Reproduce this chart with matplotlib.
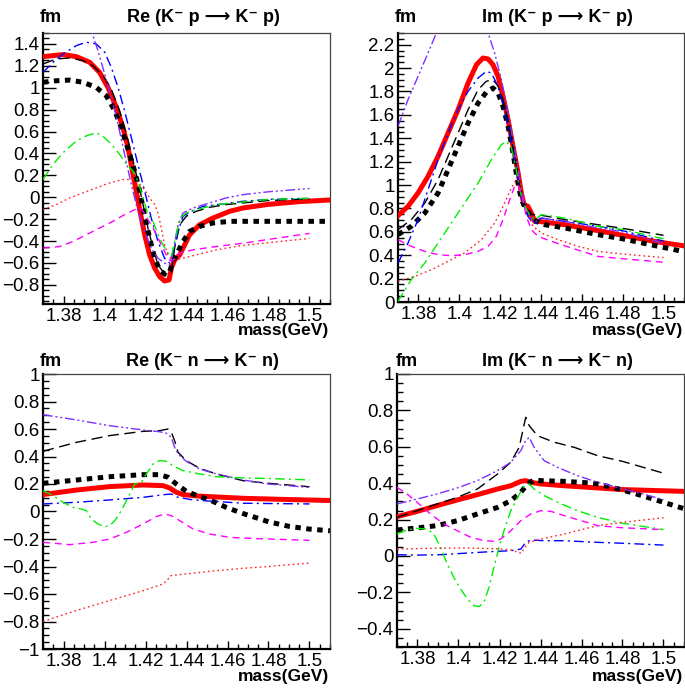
import matplotlib
matplotlib.use("Agg")
import matplotlib.pyplot as plt
from matplotlib.ticker import MultipleLocator, FuncFormatter

plt.rcParams['font.family'] = ['Liberation Sans', 'DejaVu Sans']

# ---------------- Re (K- p -> K- p) ----------------
rep_red_x = [1.37, 1.3798, 1.3863, 1.3928, 1.3976, 1.4017, 1.4058, 1.409, 1.4115, 1.4136, 1.4155, 1.4175,
             1.4196, 1.422, 1.4245, 1.4269, 1.4293, 1.4315, 1.4326, 1.4342, 1.4367, 1.4383, 1.4415, 1.4464,
             1.4529, 1.4611, 1.4676, 1.48, 1.495, 1.51]
rep_red_y = [1.284, 1.303, 1.284, 1.232, 1.14, 1.003, 0.82, 0.636, 0.453, 0.239, 0.055, -0.144,
             -0.343, -0.526, -0.648, -0.725, -0.765, -0.755, -0.648, -0.572, -0.526, -0.465, -0.343, -0.251,
             -0.19, -0.128, -0.098, -0.065, -0.04, -0.025]
rep_dot_x = [1.37, 1.3765, 1.383, 1.3895, 1.396, 1.4009, 1.405, 1.4082, 1.4115, 1.4147, 1.4172, 1.4196,
             1.422, 1.4245, 1.4269, 1.4293, 1.4315, 1.4334, 1.4359, 1.4383, 1.4415, 1.4464, 1.4529, 1.4611,
             1.48, 1.51]
rep_dot_y = [1.05, 1.064, 1.07, 1.05, 1.003, 0.927, 0.79, 0.636, 0.437, 0.239, 0.055, -0.174,
             -0.373, -0.557, -0.664, -0.703, -0.694, -0.587, -0.495, -0.404, -0.312, -0.266, -0.235, -0.22,
             -0.22, -0.22]
rep_dash_x = [1.37, 1.3765, 1.383, 1.3895, 1.3944, 1.3993, 1.4033, 1.4074, 1.4107, 1.4136, 1.4163, 1.4188,
              1.4212, 1.4237, 1.4261, 1.4285, 1.431, 1.4326, 1.4342, 1.4367, 1.4399, 1.4448, 1.4513, 1.4594,
              1.4676, 1.48, 1.50]
rep_dash_y = [1.217, 1.263, 1.272, 1.248, 1.2, 1.11, 0.988, 0.789, 0.575, 0.361, 0.147, -0.067,
              -0.281, -0.465, -0.618, -0.679, -0.709, -0.694, -0.465, -0.251, -0.174, -0.128, -0.092, -0.067,
              -0.052, -0.03, -0.015]
rep_blue_x = [1.37, 1.3749, 1.3798, 1.3863, 1.3911, 1.396, 1.4001, 1.4033, 1.4066, 1.4098, 1.4131, 1.4163,
              1.4196, 1.4228, 1.4261, 1.4293, 1.4318, 1.4337, 1.4359, 1.4383, 1.4424, 1.4481, 1.4578, 1.4676,
              1.48, 1.50]
rep_blue_y = [1.14, 1.232, 1.309, 1.385, 1.416, 1.40, 1.324, 1.187, 1.003, 0.789, 0.544, 0.3,
              0.055, -0.19, -0.404, -0.557, -0.602, -0.495, -0.312, -0.174, -0.128, -0.083, -0.061, -0.037,
              -0.02, -0.01]
rep_violet_x = [1.37, 1.385, 1.3936, 1.3968, 1.4001, 1.4033, 1.4066, 1.4098, 1.4131, 1.4163, 1.4196, 1.4228,
                1.4261, 1.4293, 1.4318, 1.4334, 1.4359, 1.4383, 1.4432, 1.4513, 1.4594, 1.4676, 1.48, 1.50]
rep_violet_y = [2.8, 2.0, 1.52, 1.34, 1.125, 0.911, 0.667, 0.391, 0.116, -0.128, -0.312, -0.465,
                -0.557, -0.602, -0.618, -0.495, -0.251, -0.144, -0.098, -0.052, -0.006, 0.024, 0.05, 0.08]
rep_green_x = [1.37, 1.3749, 1.3798, 1.3863, 1.3911, 1.396, 1.4001, 1.4041, 1.4074, 1.4107, 1.4139, 1.4163,
               1.4188, 1.4212, 1.4237, 1.4261, 1.4285, 1.431, 1.4326, 1.4339, 1.435, 1.4367, 1.4399, 1.4448,
               1.4546, 1.4676, 1.48, 1.50]
rep_green_y = [0.162, 0.3, 0.407, 0.514, 0.56, 0.59, 0.544, 0.468, 0.391, 0.3, 0.239, 0.147,
               -0.006, -0.159, -0.22, -0.343, -0.434, -0.511, -0.541, -0.434, -0.343, -0.19, -0.144, -0.113,
               -0.067, -0.043, -0.02, -0.01]
rep_rdot_x = [1.37, 1.3765, 1.383, 1.3895, 1.396, 1.4025, 1.409, 1.4139, 1.4172, 1.4196, 1.422, 1.4245,
              1.4261, 1.4277, 1.4293, 1.431, 1.4326, 1.435, 1.4383, 1.4448, 1.4546, 1.4676, 1.48, 1.50]
rep_rdot_y = [-0.113, -0.067, -0.006, 0.04, 0.086, 0.131, 0.162, 0.162, 0.116, 0.07, -0.006, -0.067,
              -0.144, -0.281, -0.434, -0.526, -0.557, -0.572, -0.557, -0.526, -0.48, -0.44, -0.415, -0.376]
rep_mag_x = [1.37, 1.3781, 1.3846, 1.3911, 1.3976, 1.4041, 1.4098, 1.4147, 1.4172, 1.4188, 1.4212, 1.4237,
             1.4261, 1.4285, 1.431, 1.4326, 1.4342, 1.4367, 1.4432, 1.4546, 1.4676, 1.48, 1.50]
rep_mag_y = [-0.465, -0.45, -0.404, -0.343, -0.281, -0.22, -0.159, -0.113, -0.098, -0.128, -0.205, -0.281,
             -0.373, -0.465, -0.557, -0.587, -0.557, -0.511, -0.48, -0.45, -0.42, -0.385, -0.33]

# ---------------- Im (K- p -> K- p) ----------------
imp_red_x = [1.37, 1.3749, 1.3798, 1.3847, 1.3896, 1.3945, 1.3994, 1.4043, 1.4084, 1.4116, 1.4141, 1.4165,
             1.419, 1.4214, 1.4239, 1.4263, 1.4288, 1.4304, 1.4317, 1.4336, 1.4353, 1.4369, 1.4385, 1.4516,
             1.4679, 1.48, 1.495, 1.51]
imp_red_y = [0.738, 0.818, 0.932, 1.074, 1.245, 1.445, 1.644, 1.872, 2.029, 2.086, 2.078, 2.029,
             1.929, 1.758, 1.559, 1.331, 1.103, 0.932, 0.832, 0.818, 0.761, 0.69, 0.69, 0.661,
             0.61, 0.57, 0.52, 0.48]
imp_dot_x = [1.37, 1.3765, 1.3831, 1.3896, 1.3945, 1.3994, 1.4043, 1.4092, 1.4132, 1.4165, 1.419, 1.4214,
             1.4239, 1.4263, 1.4284, 1.4304, 1.4328, 1.4353, 1.4377, 1.4418, 1.4516, 1.4679, 1.48, 1.51]
imp_dot_y = [0.576, 0.647, 0.761, 0.932, 1.131, 1.331, 1.53, 1.701, 1.793, 1.83, 1.787, 1.673,
             1.502, 1.274, 1.046, 0.875, 0.789, 0.732, 0.69, 0.661, 0.633, 0.576, 0.54, 0.43]
imp_dash_x = [1.37, 1.3765, 1.3831, 1.3896, 1.3945, 1.3994, 1.4043, 1.4092, 1.4132, 1.4165, 1.419, 1.4214,
              1.4239, 1.4263, 1.4288, 1.4307, 1.4328, 1.4353, 1.4385, 1.4516, 1.4679, 1.48, 1.50]
imp_dash_y = [0.618, 0.704, 0.846, 1.046, 1.245, 1.445, 1.644, 1.815, 1.887, 1.901, 1.844, 1.73,
              1.545, 1.317, 1.074, 0.889, 0.804, 0.747, 0.747, 0.704, 0.661, 0.63, 0.57]
imp_blue_x = [1.37, 1.3749, 1.3798, 1.3847, 1.3896, 1.3945, 1.3994, 1.4043, 1.4092, 1.4132, 1.4157, 1.419,
              1.4214, 1.4239, 1.4263, 1.4288, 1.4307, 1.4336, 1.4361, 1.4377, 1.4402, 1.4516, 1.4679, 1.48,
              1.50]
imp_blue_y = [0.333, 0.504, 0.704, 0.96, 1.217, 1.445, 1.644, 1.801, 1.915, 1.972, 1.958, 1.844,
              1.687, 1.502, 1.274, 1.046, 0.875, 0.732, 0.675, 0.675, 0.718, 0.69, 0.647, 0.61,
              0.52]
imp_violet_x = [1.37, 1.3749, 1.3798, 1.3847, 1.3888, 1.40, 1.4141, 1.4173, 1.4206, 1.4239, 1.4263, 1.4288,
                1.4307, 1.4328, 1.4353, 1.4369, 1.4394, 1.4516, 1.4679, 1.48, 1.50]
imp_violet_y = [1.502, 1.73, 1.929, 2.129, 2.3, 2.9, 2.3, 2.129, 1.901, 1.616, 1.388, 1.131,
                0.932, 0.789, 0.704, 0.675, 0.718, 0.69, 0.633, 0.6, 0.5]
imp_green_x = [1.37, 1.3765, 1.3831, 1.3896, 1.3961, 1.4026, 1.4092, 1.4157, 1.4206, 1.423, 1.4255, 1.4279,
               1.43, 1.432, 1.4345, 1.4369, 1.4402, 1.4516, 1.4679, 1.48, 1.50]
imp_green_y = [0.006, 0.191, 0.333, 0.504, 0.675, 0.846, 1.017, 1.217, 1.345, 1.374, 1.317, 1.131,
               0.932, 0.818, 0.747, 0.704, 0.747, 0.718, 0.647, 0.62, 0.54]
imp_rdot_x = [1.37, 1.3782, 1.3863, 1.3945, 1.4026, 1.4108, 1.4173, 1.4222, 1.4255, 1.4279, 1.4296, 1.4312,
              1.4336, 1.4361, 1.4402, 1.4483, 1.4581, 1.4679, 1.48, 1.50]
imp_rdot_y = [0.177, 0.219, 0.276, 0.348, 0.419, 0.533, 0.675, 0.846, 0.975, 1.046, 1.032, 0.932,
              0.761, 0.647, 0.59, 0.533, 0.476, 0.433, 0.41, 0.38]
imp_mag_x = [1.37, 1.3765, 1.3831, 1.3896, 1.3961, 1.4026, 1.4092, 1.4141, 1.4181, 1.4214, 1.4247, 1.4271,
             1.4288, 1.4307, 1.4328, 1.4353, 1.4385, 1.4451, 1.4549, 1.4679, 1.48, 1.50]
imp_mag_y = [0.533, 0.476, 0.433, 0.405, 0.396, 0.405, 0.433, 0.476, 0.561, 0.704, 0.875, 0.989,
             1.003, 0.903, 0.732, 0.618, 0.561, 0.519, 0.462, 0.39, 0.37, 0.34]

# ---------------- Re (K- n -> K- n) ----------------
ren_red_x = [1.37, 1.3863, 1.4025, 1.4188, 1.4285, 1.4318, 1.435, 1.4383, 1.4448, 1.4676, 1.49, 1.51]
ren_red_y = [0.123, 0.156, 0.181, 0.193, 0.188, 0.171, 0.14, 0.123, 0.113, 0.096, 0.087, 0.08]
ren_dot_x = [1.37, 1.3863, 1.4025, 1.4188, 1.4269, 1.431, 1.435, 1.4399, 1.4464, 1.4513, 1.4594, 1.4676,
             1.475, 1.48, 1.49, 1.50, 1.51]
ren_dot_y = [0.205, 0.229, 0.253, 0.268, 0.268, 0.249, 0.2, 0.147, 0.108, 0.084, 0.03, -0.015,
             -0.05, -0.075, -0.108, -0.128, -0.14]
ren_dash_x = [1.37, 1.3863, 1.4025, 1.4188, 1.4269, 1.431, 1.4326, 1.4342, 1.4359, 1.4399, 1.4464, 1.4546,
              1.4676, 1.48, 1.50]
ren_dash_y = [0.438, 0.503, 0.552, 0.583, 0.588, 0.6, 0.576, 0.515, 0.43, 0.37, 0.314, 0.273,
              0.224, 0.205, 0.18]
ren_violet_x = [1.37, 1.3863, 1.4025, 1.4188, 1.4269, 1.4302, 1.4326, 1.4342, 1.4359, 1.4399, 1.4464, 1.4546,
                1.4676, 1.48, 1.50]
ren_violet_y = [0.704, 0.666, 0.624, 0.593, 0.58, 0.569, 0.539, 0.467, 0.418, 0.365, 0.309, 0.273,
                0.229, 0.2, 0.175]
ren_green_x = [1.37, 1.3749, 1.3798, 1.3846, 1.3887, 1.3911, 1.3936, 1.3968, 1.4001, 1.4025, 1.405, 1.4082,
               1.4115, 1.4147, 1.418, 1.4204, 1.4237, 1.4269, 1.4302, 1.4334, 1.4383, 1.4464, 1.4546, 1.4676,
               1.48, 1.50]
ren_green_y = [0.152, 0.115, 0.067, 0.03, 0.018, 0.006, -0.054, -0.091, -0.11, -0.103, -0.067, 0.006,
               0.103, 0.2, 0.212, 0.273, 0.345, 0.37, 0.365, 0.333, 0.297, 0.273, 0.253, 0.244,
               0.24, 0.23]
ren_blue_x = [1.37, 1.3863, 1.4025, 1.4188, 1.4293, 1.4326, 1.4359, 1.4432, 1.4676, 1.50]
ren_blue_y = [0.055, 0.067, 0.084, 0.103, 0.123, 0.127, 0.103, 0.084, 0.06, 0.055]
ren_mag_x = [1.37, 1.383, 1.3944, 1.4025, 1.4107, 1.4188, 1.4253, 1.4293, 1.4326, 1.4367, 1.4432, 1.4513,
             1.4611, 1.4676, 1.48, 1.50]
ren_mag_y = [-0.224, -0.241, -0.224, -0.2, -0.151, -0.091, -0.037, -0.018, -0.03, -0.067, -0.127, -0.164,
             -0.188, -0.193, -0.2, -0.21]
ren_rdot_x = [1.37, 1.3863, 1.4025, 1.4188, 1.4285, 1.4305, 1.4321, 1.435, 1.4513, 1.4676, 1.48, 1.50]
ren_rdot_y = [-0.8, -0.72, -0.648, -0.576, -0.527, -0.503, -0.467, -0.462, -0.435, -0.413, -0.4, -0.375]

# ---------------- Im (K- n -> K- n) ----------------
imn_red_x = [1.37, 1.3798, 1.3896, 1.3994, 1.4092, 1.419, 1.4255, 1.4304, 1.4328, 1.4353, 1.4402, 1.4516,
             1.4679, 1.48, 1.51]
imn_red_y = [0.216, 0.245, 0.277, 0.308, 0.337, 0.368, 0.386, 0.41, 0.414, 0.405, 0.396, 0.386,
             0.374, 0.365, 0.355]
imn_dot_x = [1.37, 1.3798, 1.3896, 1.3994, 1.4092, 1.419, 1.4255, 1.4304, 1.4337, 1.4369, 1.4402, 1.4516,
             1.4647, 1.4679, 1.48, 1.49, 1.51]
imn_dot_y = [0.143, 0.154, 0.167, 0.194, 0.231, 0.267, 0.304, 0.35, 0.396, 0.418, 0.414, 0.41,
             0.401, 0.396, 0.363, 0.33, 0.26]
imn_dash_x = [1.37, 1.3798, 1.3896, 1.3994, 1.4092, 1.419, 1.4255, 1.4296, 1.4317, 1.4328, 1.4345, 1.4385,
              1.4467, 1.4565, 1.4679, 1.48, 1.50]
imn_dash_y = [0.212, 0.249, 0.286, 0.322, 0.368, 0.45, 0.515, 0.597, 0.707, 0.762, 0.716, 0.661,
              0.625, 0.597, 0.551, 0.52, 0.455]
imn_violet_x = [1.37, 1.3798, 1.3896, 1.3994, 1.4092, 1.419, 1.4255, 1.4304, 1.4328, 1.4345, 1.4369, 1.4418,
                1.4483, 1.4581, 1.4679, 1.48, 1.50]
imn_violet_y = [0.286, 0.313, 0.341, 0.374, 0.414, 0.469, 0.515, 0.579, 0.634, 0.652, 0.597, 0.524,
                0.487, 0.441, 0.405, 0.37, 0.31]
imn_green_x = [1.37, 1.3749, 1.3798, 1.3847, 1.388, 1.3912, 1.3945, 1.3977, 1.401, 1.4043, 1.4075, 1.41,
               1.4124, 1.4149, 1.4173, 1.4198, 1.4222, 1.4255, 1.4288, 1.432, 1.4345, 1.4369, 1.4418, 1.4483,
               1.4581, 1.4679, 1.48, 1.50]
imn_green_y = [0.121, 0.143, 0.152, 0.148, 0.121, 0.048, -0.044, -0.117, -0.181, -0.236, -0.273, -0.278,
               -0.255, -0.172, -0.062, 0.048, 0.139, 0.249, 0.322, 0.386, 0.396, 0.368, 0.332, 0.295,
               0.249, 0.212, 0.18, 0.145]
imn_blue_x = [1.37, 1.3798, 1.3912, 1.4026, 1.4157, 1.4255, 1.4304, 1.4328, 1.4353, 1.4418, 1.4516, 1.4679,
              1.48, 1.50]
imn_blue_y = [0.007, 0.005, 0.007, 0.015, 0.024, 0.029, 0.038, 0.075, 0.088, 0.084, 0.084, 0.075,
              0.07, 0.06]
imn_rdot_x = [1.37, 1.3863, 1.4026, 1.419, 1.4255, 1.4307, 1.4323, 1.4345, 1.4402, 1.4516, 1.4679, 1.48, 1.50]
imn_rdot_y = [0.038, 0.042, 0.044, 0.04, 0.033, 0.015, 0.048, 0.075, 0.093, 0.121, 0.167, 0.185, 0.21]
imn_mag_x = [1.37, 1.3749, 1.3798, 1.3863, 1.3928, 1.3994, 1.4059, 1.4124, 1.4173, 1.4206, 1.4255, 1.4304,
             1.4353, 1.4402, 1.4451, 1.4516, 1.4598, 1.4679, 1.48, 1.50]
imn_mag_y = [0.377, 0.341, 0.295, 0.231, 0.176, 0.139, 0.103, 0.084, 0.081, 0.093, 0.139, 0.194,
             0.231, 0.249, 0.245, 0.222, 0.194, 0.167, 0.155, 0.145]

# line styles (ROOT-like)
styles = {
    'red':    dict(color='#ff0000', lw=3.6, ls='-', zorder=3),
    'dot':    dict(color='black', lw=3.6, ls=(0, (1.1, 1.1)), zorder=4, solid_capstyle='butt'),
    'dash':   dict(color='black', lw=1.0, ls=(0, (8, 4)), zorder=5),
    'blue':   dict(color='#0000ff', lw=1.0, ls=(0, (7, 3, 1.5, 3)), zorder=5),
    'violet': dict(color='#7f2fff', lw=1.0, ls=(0, (7, 2, 1.5, 2, 1.5, 2)), zorder=5),
    'green':  dict(color='#00ee00', lw=1.0, ls=(0, (7, 3, 1.5, 3)), zorder=5),
    'rdot':   dict(color='#ff2020', lw=1.0, ls=(0, (1.2, 2.2)), zorder=5),
    'mag':    dict(color='#ff00ff', lw=1.0, ls=(0, (5, 3.5)), zorder=5),
}

W, H = 685, 691
fig = plt.figure(figsize=(W / 100, H / 100), dpi=100)


def fmt(v, pos):
    s = f"{round(v, 3):g}"
    if s == "-0":
        s = "0"
    return s.replace('-', '\u2212')


def make_axes(left, top, right, bottom, ylim):
    ax = fig.add_axes([left / W, 1 - bottom / H, (right - left) / W, (bottom - top) / H])
    ax.set_xlim(1.37, 1.51)
    ax.set_ylim(*ylim)
    ax.xaxis.set_major_locator(MultipleLocator(0.02))
    ax.xaxis.set_minor_locator(MultipleLocator(0.005))
    ax.yaxis.set_major_locator(MultipleLocator(0.2))
    ax.yaxis.set_minor_locator(MultipleLocator(0.05))
    ax.xaxis.set_major_formatter(FuncFormatter(fmt))
    ax.yaxis.set_major_formatter(FuncFormatter(fmt))
    ax.tick_params(which='both', direction='in', top=False, right=False, labelsize=13.5, width=1, color='black')
    ax.tick_params(axis='x', which='major', length=6, pad=3)
    ax.tick_params(axis='x', which='minor', length=3.5)
    ax.tick_params(axis='y', which='major', length=9, pad=2.5)
    ax.tick_params(axis='y', which='minor', length=4.5)
    for s in ('left', 'bottom'):
        ax.spines[s].set_linewidth(1.6)
        ax.spines[s].set_color('black')
    for s in ('top', 'right'):
        ax.spines[s].set_linewidth(0.9)
        ax.spines[s].set_color('#444444')
    return ax


def draw(ax, curves):
    for name, xs, ys in curves:
        ax.plot(xs, ys, **styles[name])


ax1 = make_axes(43, 33, 330, 304, (-0.975, 1.5))
draw(ax1, [('red', rep_red_x, rep_red_y), ('dot', rep_dot_x, rep_dot_y), ('dash', rep_dash_x, rep_dash_y),
           ('blue', rep_blue_x, rep_blue_y), ('violet', rep_violet_x, rep_violet_y),
           ('green', rep_green_x, rep_green_y), ('rdot', rep_rdot_x, rep_rdot_y), ('mag', rep_mag_x, rep_mag_y)])

ax2 = make_axes(398, 33, 684, 302, (0, 2.3))
draw(ax2, [('red', imp_red_x, imp_red_y), ('dot', imp_dot_x, imp_dot_y), ('dash', imp_dash_x, imp_dash_y),
           ('blue', imp_blue_x, imp_blue_y), ('violet', imp_violet_x, imp_violet_y),
           ('green', imp_green_x, imp_green_y), ('rdot', imp_rdot_x, imp_rdot_y), ('mag', imp_mag_x, imp_mag_y)])

ax3 = make_axes(43, 374, 330, 649, (-1, 1))
draw(ax3, [('red', ren_red_x, ren_red_y), ('dot', ren_dot_x, ren_dot_y), ('dash', ren_dash_x, ren_dash_y),
           ('blue', ren_blue_x, ren_blue_y), ('violet', ren_violet_x, ren_violet_y),
           ('green', ren_green_x, ren_green_y), ('rdot', ren_rdot_x, ren_rdot_y), ('mag', ren_mag_x, ren_mag_y)])

ax4 = make_axes(397, 374, 684, 647, (-0.5, 1))
draw(ax4, [('red', imn_red_x, imn_red_y), ('dot', imn_dot_x, imn_dot_y), ('dash', imn_dash_x, imn_dash_y),
           ('blue', imn_blue_x, imn_blue_y), ('violet', imn_violet_x, imn_violet_y),
           ('green', imn_green_x, imn_green_y), ('rdot', imn_rdot_x, imn_rdot_y), ('mag', imn_mag_x, imn_mag_y)])

titles = ['Re (K\u207b p \u27f6 K\u207b p)', 'Im (K\u207b p \u27f6 K\u207b p)',
          'Re (K\u207b n \u27f6 K\u207b n)', 'Im (K\u207b n \u27f6 K\u207b n)']
title_pos = [(203, 17), (557, 17), (202, 362), (557, 362)]
fm_pos = [(40, 17), (395, 17), (40, 362), (396, 362)]
mass_pos = [(329, 331), (683, 331), (329, 676), (683, 677)]

for (tx, ty), t in zip(title_pos, titles):
    fig.text(tx / W, 1 - ty / H, t, ha='center', va='center', fontsize=13, fontweight='bold')
for fx, fy in fm_pos:
    fig.text(fx / W, 1 - fy / H, 'fm', ha='left', va='center', fontsize=13, fontweight='bold')
for mx, my in mass_pos:
    fig.text(mx / W, 1 - my / H, 'mass(GeV)', ha='right', va='center', fontsize=12.5, fontweight='bold')

fig.savefig('out.png', dpi=100)
